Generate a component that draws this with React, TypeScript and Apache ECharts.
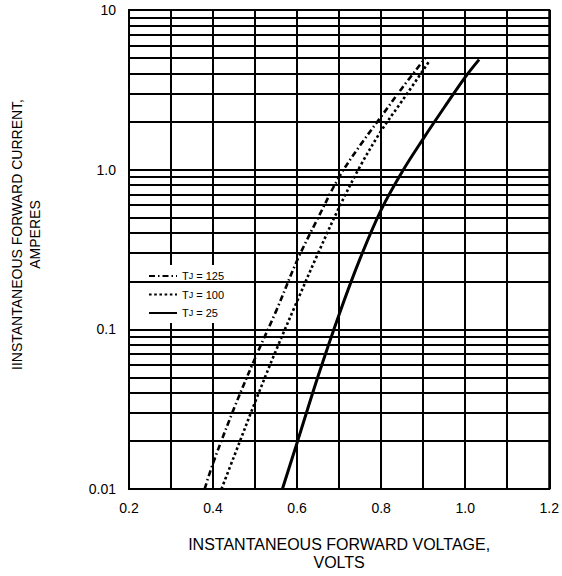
import React, { useEffect, useRef } from "react";
import * as echarts from "echarts";

// ---- data ----
const seriesNames = ["125", "100", "25"];

const v125 = [0.38, 0.4, 0.45, 0.5, 0.55, 0.6, 0.65, 0.7, 0.75, 0.8, 0.85, 0.905];
const i125 = [0.01, 0.0145, 0.032, 0.066, 0.13, 0.27, 0.5, 0.9, 1.42, 2.15, 3.25, 5.0];

const v100 = [0.42, 0.45, 0.5, 0.55, 0.6, 0.65, 0.7, 0.75, 0.8, 0.85, 0.915];
const i100 = [0.01, 0.016, 0.035, 0.074, 0.15, 0.3, 0.58, 1.05, 1.75, 2.7, 4.8];

const v25 = [0.565, 0.6, 0.65, 0.7, 0.75, 0.8, 0.85, 0.9, 0.95, 1.0, 1.033];
const i25 = [0.01, 0.0195, 0.051, 0.124, 0.278, 0.56, 0.97, 1.56, 2.45, 3.8, 4.89];

const xTickValues = [0.2, 0.4, 0.6, 0.8, 1.0, 1.2];
const xTickLabels = ["0.2", "0.4", "0.6", "0.8", "1.0", "1.2"];
const yTickValues = [0.01, 0.1, 1, 10];
const yTickLabels = ["0.01", "0.1", "1.0", "10"];
const yMinorLines = [
  0.02, 0.03, 0.04, 0.05, 0.06, 0.07, 0.08, 0.09,
  0.2, 0.3, 0.4, 0.5, 0.6, 0.7, 0.8, 0.9,
  2, 3, 4, 5, 6, 7, 8, 9,
];

const xTitle = "INSTANTANEOUS FORWARD VOLTAGE,\nVOLTS";
const yTitle = "IINSTANTANEOUS FORWARD CURRENT,\nAMPERES";

const FONT = "'Liberation Sans', Arial, Helvetica, sans-serif";

const pairs = (xs: number[], ys: number[]) => xs.map((x, k) => [x, ys[k]]);

export default function App() {
  const ref = useRef<HTMLDivElement>(null);

  useEffect(() => {
    if (!ref.current) return;
    const chart = echarts.init(ref.current, undefined, { renderer: "svg" });

    const lineStyles: any[] = [
      { color: "#000", width: 2.6, type: [6, 3, 1.5, 3], cap: "butt" },
      { color: "#000", width: 2.6, type: [2.6, 2.6], cap: "butt" },
      { color: "#000", width: 3, type: "solid" },
    ];
    const datas = [pairs(v125, i125), pairs(v100, i100), pairs(v25, i25)];

    const series: any[] = seriesNames.map((name, k) => ({
      type: "line",
      name,
      data: datas[k],
      smooth: 0.35,
      symbol: "none",
      showSymbol: false,
      lineStyle: lineStyles[k],
      itemStyle: { color: "#000" },
      silent: true,
      z: 3,
    }));

    series.push({
      type: "line",
      name: "grid",
      data: [],
      silent: true,
      z: 1,
      markLine: {
        silent: true,
        symbol: ["none", "none"],
        label: { show: false },
        lineStyle: { color: "#000", width: 2, type: "solid" },
        emphasis: { disabled: true },
        data: yMinorLines.map((v) => ({ yAxis: v })),
      },
    });

    const option: any = {
      animation: false,
      backgroundColor: "#fff",
      grid: {
        left: 125,
        right: 11,
        top: 10,
        bottom: 84,
        show: true,
        borderColor: "#000",
        borderWidth: 2,
      },
      legend: {
        data: seriesNames,
        left: 142,
        top: 265,
        orient: "vertical",
        backgroundColor: "#fff",
        padding: [4, 20, 3, 6],
        itemWidth: 28,
        itemHeight: 10,
        itemGap: 4.5,
        selectedMode: false,
        itemStyle: { opacity: 0 },
        formatter: (n: string) => `T{s|J} = ${n}`,
        textStyle: {
          fontSize: 11,
          color: "#000",
          fontFamily: FONT,
          lineHeight: 14,
          rich: {
            s: { fontSize: 9, color: "#000", fontFamily: FONT, lineHeight: 14 },
          },
        },
      },
      xAxis: {
        type: "value",
        min: 0.2,
        max: 1.2,
        interval: 0.1,
        axisLine: { show: true, lineStyle: { color: "#000", width: 2 } },
        axisTick: { show: false },
        splitLine: { show: true, lineStyle: { color: "#000", width: 2 } },
        axisLabel: {
          color: "#000",
          fontSize: 14,
          fontFamily: FONT,
          margin: 12,
          formatter: (v: number) => {
            const k = xTickValues.findIndex((t) => Math.abs(t - v) < 1e-6);
            return k >= 0 ? xTickLabels[k] : "";
          },
        },
        name: xTitle,
        nameLocation: "middle",
        nameGap: 46,
        nameTextStyle: { color: "#000", fontSize: 16, fontFamily: FONT, lineHeight: 18 },
      },
      yAxis: {
        type: "log",
        logBase: 10,
        min: 0.01,
        max: 10,
        axisLine: { show: true, lineStyle: { color: "#000", width: 2 } },
        axisTick: { show: false },
        splitLine: { show: true, lineStyle: { color: "#000", width: 2 } },
        minorTick: { show: false },
        axisLabel: {
          color: "#000",
          fontSize: 14,
          fontFamily: FONT,
          margin: 13,
          formatter: (v: number) => {
            const k = yTickValues.findIndex((t) => Math.abs(Math.log10(t) - Math.log10(v)) < 1e-6);
            return k >= 0 ? yTickLabels[k] : "";
          },
        },
        name: yTitle,
        nameLocation: "middle",
        nameGap: 85,
        nameTextStyle: {
          color: "#000",
          fontSize: 14,
          fontFamily: FONT,
          lineHeight: 18,
          padding: [0, 0, 0, 30],
        },
      },
      series,
    };

    chart.setOption(option);
    return () => chart.dispose();
  }, []);

  return (
    <div
      ref={ref}
      style={{ position: "fixed", left: 0, top: 0, width: 562, height: 576, background: "#fff" }}
    />
  );
}
